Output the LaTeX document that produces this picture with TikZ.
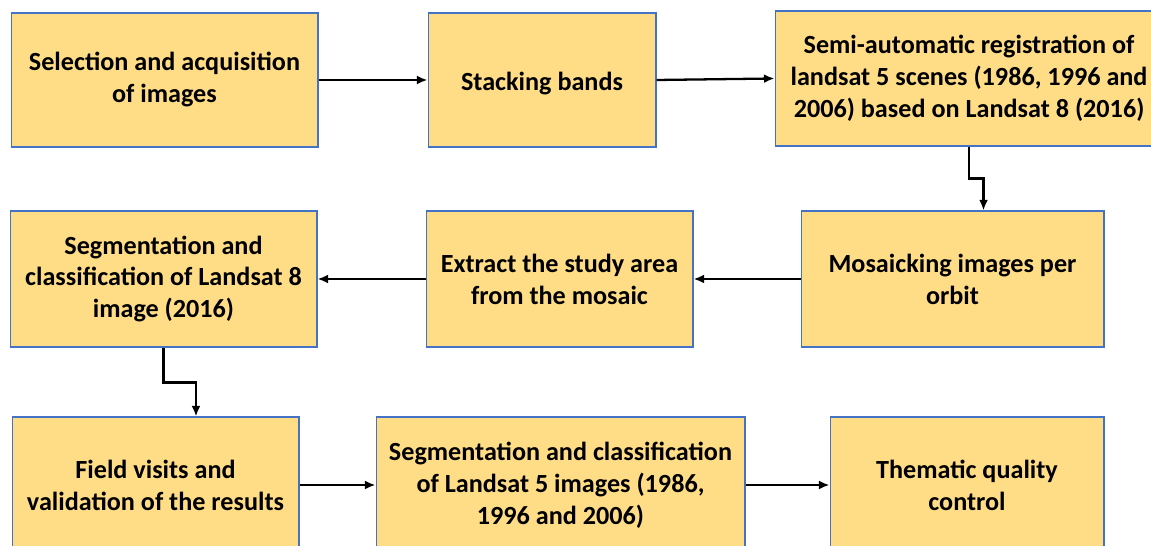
\documentclass[tikz,border=0pt]{standalone}
\usepackage{fontspec}
\setmainfont{Carlito}
\usetikzlibrary{positioning,arrows.meta}
\definecolor{boxfill}{HTML}{FFDD87}
\definecolor{boxline}{HTML}{4472C4}

\begin{document}
\begin{tikzpicture}[x=.02cm,y=-.02cm,
  stepbox/.style={draw=boxline,fill=boxfill,line width=.6pt,align=center,
    font=\fontsize{14.9}{18.2}\selectfont\bfseries,inner sep=0pt,
    execute at begin node={\rule{0pt}{14.2pt}}},
  arr/.style={-{Latex[length=6pt,width=5pt]},line width=1.3pt}]
  \useasboundingbox (0,0) rectangle (1151,546);
  \clip (0,0) rectangle (1151,546);
  % first row
  \node[stepbox,minimum width=6.14cm,minimum height=2.68cm] (sel) at (164.5,80){Selection and acquisition\\of images};
  \node[stepbox,minimum width=4.56cm,minimum height=2.68cm] (stack) at (542,80){Stacking bands};
  \node[stepbox,minimum width=7.76cm,minimum height=2.7cm] (reg) at (969,78.5){Semi-automatic registration of\\landsat 5 scenes (1986, 1996 and\\2006) based on Landsat 8 (2016)};
  % second row
  \node[stepbox,minimum width=6.06cm,minimum height=2.72cm] (mosaic) at (952.5,279){Mosaicking images per\\orbit};
  \node[stepbox,minimum width=5.34cm,minimum height=2.72cm] (extract) at (559.5,279){Extract the study area\\from the mosaic};
  \node[stepbox,minimum width=6.14cm,minimum height=2.72cm] (segeight) at (163.5,279){Segmentation and\\classification of Landsat 8\\image (2016)};
  % third row
  \node[stepbox,minimum width=5.74cm,minimum height=2.72cm] (field) at (155.5,485){Field visits and\\validation of the results};
  \node[stepbox,minimum width=7.38cm,minimum height=2.72cm] (segfive) at (560.5,485){Segmentation and classification\\of Landsat 5 images (1986,\\1996 and 2006)};
  \node[stepbox,minimum width=5.48cm,minimum height=2.72cm] (quality) at (967,485){Thematic quality\\control};
  % connectors
  \draw[arr] (sel.east) -- (stack.west);
  \draw[arr] (stack.east) -- (reg.west);
  \draw[arr] (reg.south) -- ++(0,32) -| ([xshift=.62cm]mosaic.north);
  \draw[arr] (mosaic.west) -- (extract.east);
  \draw[arr] (extract.west) -- (segeight.east);
  \draw[arr] (segeight.south) -- ++(0,35) -| ([xshift=.81cm]field.north);
  \draw[arr] (field.east) -- (segfive.west);
  \draw[arr] (segfive.east) -- (quality.west);
\end{tikzpicture}
\end{document}
